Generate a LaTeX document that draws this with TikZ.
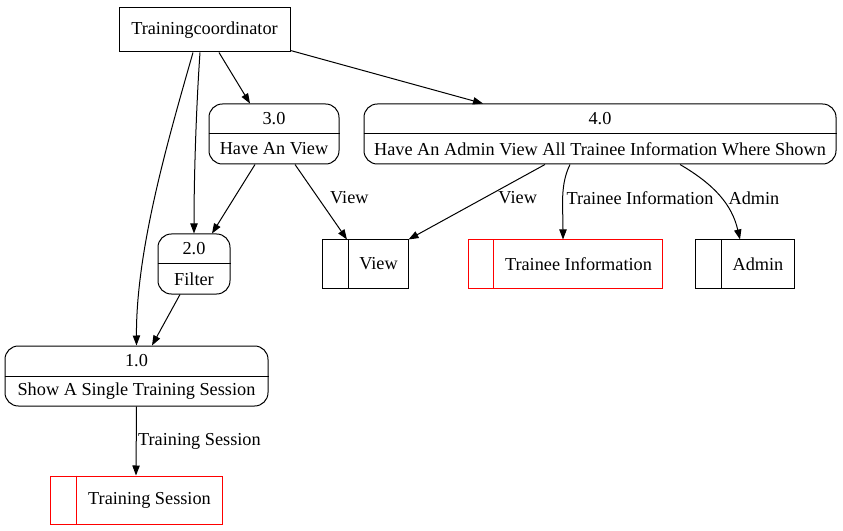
\documentclass[tikz,border=0pt]{standalone}
\usepackage{fontspec}
\setmainfont{Liberation Serif}
\usepackage{tikz}
\usetikzlibrary{arrows.meta, positioning, calc}
\definecolor{storered}{RGB}{255,0,0}

\begin{document}
\begin{tikzpicture}[x=0.75pt, y=-0.75pt, font=\fontsize{13.7}{16}\selectfont, line width=0.75pt,
  entity/.style={draw, minimum width=128.25pt, minimum height=33pt, inner sep=0pt},
  process/.style={draw, rounded corners=10pt, minimum height=45pt, inner sep=0pt},
  store/.style={draw, minimum height=36pt, inner sep=0pt},
  flow/.style={-{Triangle[length=7.5pt, width=5.5pt]}},
  lbl/.style={inner sep=1pt}]
\useasboundingbox (0,0) rectangle (843,531);

% external entity
\node[entity] (tc) at (204.5,30) {Trainingcoordinator};

% processes
\node[process, minimum width=97.5pt] (p3) at (274,134) {};
\node[process, minimum width=354pt] (p4) at (600,134) {};
\node[process, minimum width=54pt] (p2) at (194,264) {};
\node[process, minimum width=197.25pt] (p1) at (136.5,376) {};
\foreach \p/\num/\txt in {p3/3.0/Have An View, p4/4.0/Have An Admin View All Trainee Information Where Shown, p2/2.0/Filter, p1/1.0/Show A Single Training Session}{
  \draw (\p.west) -- (\p.east);
  \node at ($(\p.center)+(0,-15)$) {\num};
  \node at ($(\p.center)+(0,15)$) {\txt};
}

% data stores
\node[store, minimum width=64.5pt] (sview) at (365,264) {};
\node[store, draw=storered, minimum width=145.5pt] (strainee) at (565,264) {};
\node[store, minimum width=74.25pt] (sadmin) at (744.5,264) {};
\node[store, draw=storered, minimum width=129pt] (ssession) at (136,500) {};
\foreach \s/\txt in {sview/View, strainee/Trainee Information, sadmin/Admin, ssession/Training Session}{
  \node at ($($(\s.west)+(27,0)$)!0.5!(\s.east)$) {\txt};
}
\draw ($(sview.north west)+(27,0)$) -- ($(sview.south west)+(27,0)$);
\draw[storered] ($(strainee.north west)+(26,0)$) -- ($(strainee.south west)+(26,0)$);
\draw ($(sadmin.north west)+(27,0)$) -- ($(sadmin.south west)+(27,0)$);
\draw[storered] ($(ssession.north west)+(27,0)$) -- ($(ssession.south west)+(27,0)$);

% flows
\draw[flow] ($(tc.south)+(-11.5,0)$) .. controls (168,140) and (136,250) .. (p1.north);
\draw[flow] ($(tc.south)+(-4.5,0)$) .. controls (196,110) and (194,180) .. (p2.north);
\draw[flow] ($(tc.south)+(14.5,0)$) -- ($(p3.north)+(-24,0)$);
\draw[flow] ($(tc.south east)+(0,-2)$) -- ($(p4.north)+(-117,0)$);
\draw[flow] ($(p3.south)+(-19,0)$) -- ($(p2.north)+(18,0)$);
\draw[flow] ($(p3.south)+(21,0)$) -- ($(sview.north)+(-18,0)$) node[lbl, pos=0.447, anchor=west, xshift=7.5pt] {View};
\draw[flow] ($(p4.south)+(-55,0)$) -- (sview.north east) node[lbl, pos=0.447, anchor=west, xshift=9.5pt] {View};
\draw[flow] ($(p4.south)+(-30,0)$) .. controls (560,185) and (563,205) .. ($(strainee.north)+(-2,0)$);
\node[lbl] (ltrainee) at (640,198) {Trainee Information};
\draw[flow] ($(p4.south)+(80,0)$) .. controls (715,185) and (732,205) .. ($(sadmin.north)+(-4.5,0)$);
\node[lbl] (ladmin) at (754,198) {Admin};
\draw[flow] ($(p2.south)+(-14,0)$) -- ($(p1.north)+(15.5,0)$);
\draw[flow] (p1.south) -- (ssession.north) node[lbl, midway, anchor=west] {Training Session};
\end{tikzpicture}
\end{document}
